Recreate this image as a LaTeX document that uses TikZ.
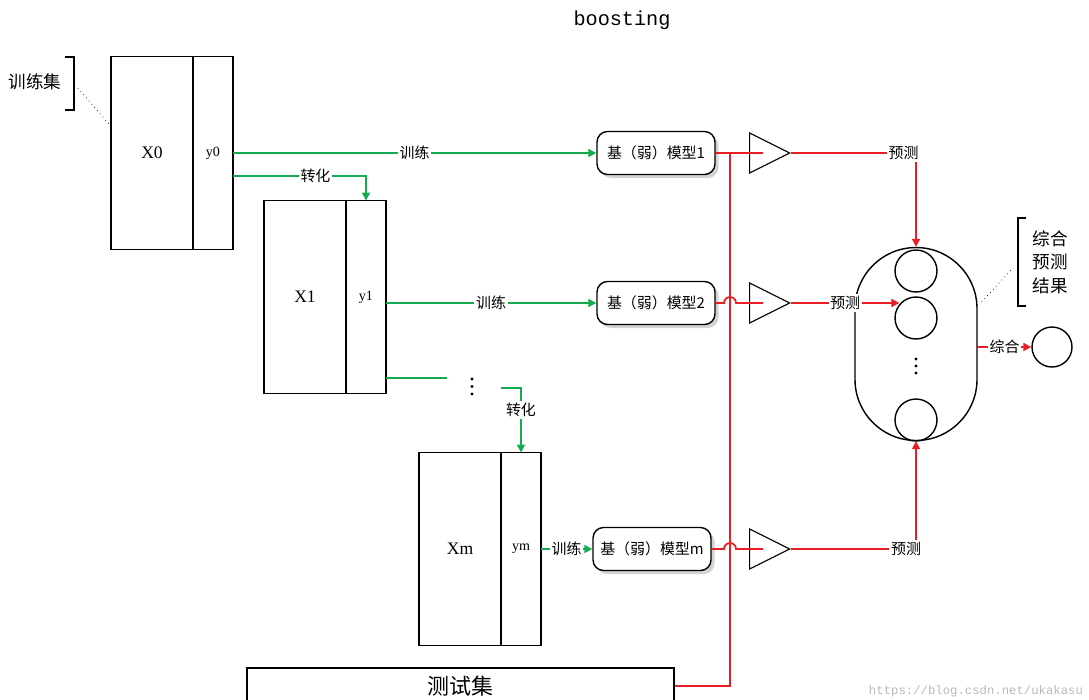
\documentclass[tikz,border=0pt]{standalone}
\usepackage{fontspec}
\setmainfont{Liberation Serif}
\setmonofont{Liberation Mono}
\newfontfamily\cjk{Noto Sans CJK SC}
\usetikzlibrary{shapes.geometric, arrows.meta, positioning, calc, shadows}
\definecolor{trainline}{RGB}{20, 170, 80}
\definecolor{predline}{RGB}{232, 30, 36}
\definecolor{markgray}{RGB}{185, 185, 185}
\tikzset{
    xpart/.style={
        rectangle, draw, thick, minimum width=1.64cm, minimum height=3.86cm,
        inner sep=0pt, outer sep=0pt, font=\fontsize{10}{12}\selectfont
    },
    ypart/.style={xpart, minimum width=0.8cm, font=\fontsize{8}{10}\selectfont},
    model/.style={
        rectangle, rounded corners=6pt, draw, thick, fill=white,
        minimum width=2.36cm, minimum height=0.86cm, inner sep=0pt,
        font=\cjk\fontsize{8.5}{10}\selectfont,
        drop shadow={shadow xshift=2pt, shadow yshift=-2pt, opacity=0.35}
    },
    amp/.style={
        isosceles triangle, isosceles triangle stretches, draw, semithick,
        minimum width=0.8cm, minimum height=0.8cm, inner sep=0pt
    },
    slot/.style={circle, draw, thick, minimum size=0.84cm, inner sep=0pt},
    capsule/.style={
        rectangle, draw, thick, rounded corners=1.22cm,
        minimum width=2.44cm, minimum height=3.86cm
    },
    testbox/.style={
        rectangle, draw, thick, minimum width=8.54cm, minimum height=0.72cm,
        font=\cjk\fontsize{12.5}{14}\selectfont
    },
    note/.style={font=\cjk\fontsize{10}{13.5}\selectfont, align=center},
    train/.style={-{Triangle[length=1.6mm, width=1.6mm]}, line width=1pt, color=trainline},
    trainplain/.style={line width=1pt, color=trainline},
    pred/.style={-{Triangle[length=1.6mm, width=1.6mm]}, line width=1pt, color=predline},
    predplain/.style={line width=1pt, color=predline},
    lbl/.style={fill=white, inner sep=1pt, text=black, font=\cjk\fontsize{8.5}{10}\selectfont},
}

\begin{document}
\begin{tikzpicture}[x=0.02cm, y=0.02cm]
    \useasboundingbox (0,0) rectangle (1089,-700);

    \node[font=\ttfamily\fontsize{11.5}{13}\selectfont] (title) at (622,-20) {boosting};

    \node[xpart] (X0) at (152,-153) {X0};
    \node[ypart, anchor=west] (y0) at (X0.east) {y0};
    \node[xpart] (X1) at (305,-297) {X1};
    \node[ypart, anchor=west] (y1) at (X1.east) {y1};
    \node[xpart] (Xm) at (460,-549) {Xm};
    \node[ypart, anchor=west] (ym) at (Xm.east) {ym};

    \node[note] (trainset) at (35,-82) {训练集};
    \draw[thick] (65,-57) -- (74,-57) -- (74,-110) -- (65,-110);
    \draw[dotted] (78,-88) -- ($(X0.north west)+(0,-70)$);

    \node[testbox] (test) at (460.5,-686) {测试集};

    \node[model] (model1) at (656,-153) {基（弱）模型1};
    \node[model] (model2) at (656,-303) {基（弱）模型2};
    \node[model] (modelm) at (652,-549) {基（弱）模型m};

    \draw[train] (y0.east |- model1) -- node[lbl] {训练} (model1);
    \draw[train] ($(y0.east)+(0,-23)$) -| node[lbl, pos=0.31] {转化} (y1.north);
    \draw[train] (y1.east |- model2) -- node[lbl] {训练} (model2);

    \coordinate (gap1) at (447,-378);
    \coordinate (gap2) at (501,-388);
    \foreach \k in {0,1,2}
        \fill (472,-379-7.5*\k) circle[radius=0.032cm];
    \draw[trainplain] ($(y1.east)+(0,-81)$) -- (gap1);
    \draw[train] (gap2) -| node[lbl, pos=0.67] {转化} (ym.north);
    \draw[train] (ym.east |- modelm) -- node[lbl] {训练} (modelm);

    \node[amp, anchor=apex] (tri1) at (791,-153) {};
    \node[amp, anchor=apex] (tri2) at (791,-303) {};
    \node[amp, anchor=apex] (trim) at (791,-549) {};
    \coordinate (in1) at ($(tri1.apex)+(-28,0)$);
    \coordinate (in2) at ($(tri2.apex)+(-28,0)$);
    \coordinate (inm) at ($(trim.apex)+(-28,0)$);
    \coordinate (bus) at (730,-153);

    \draw[predplain] (model1.east) -- (in1);
    \draw[predplain] (test.east) -| (bus);
    \draw[predplain] (model2.east) -- ($(bus |- model2.east)+(-6,0)$)
        arc[start angle=180, end angle=0, radius=0.12cm] -- (in2);
    \draw[predplain] (modelm.east) -- ($(bus |- modelm.east)+(-6,0)$)
        arc[start angle=180, end angle=0, radius=0.12cm] -- (inm);

    \node[capsule] (cap) at (916,-344) {};
    \node[slot] (c1) at (916,-271) {};
    \node[slot] (c2) at (916,-318) {};
    \node[slot] (c3) at (916,-420) {};
    \foreach \k in {0,1,2}
        \fill (916,-359-7*\k) circle[radius=0.032cm];

    \draw[pred] (tri1.apex) -| node[lbl, pos=0.45] {预测} (cap.north);
    \draw[pred] (tri2.apex) -- node[lbl, pos=0.5] {预测} (tri2.apex -| c2.140);
    \draw[pred] (trim.apex) -| node[lbl, pos=0.46] {预测} (cap.south);

    \node[circle, draw, thick, minimum size=0.8cm, inner sep=0pt] (final) at (1052,-347) {};
    \draw[pred] (cap.east |- final) -- node[lbl] {综合} (final);

    \node[note] (combo) at (1050,-262) {综合\\预测\\结果};
    \draw[thick] (1026,-218) -- (1018,-218) -- (1018,-306) -- (1026,-306);
    \draw[dotted] ($(cap.east)+(4,42)$) -- (1013,-268);

    \node[text=markgray, font=\ttfamily\fontsize{7}{8}\selectfont] (mark) at (976,-691) {https://blog.csdn.net/ukakasu};
\end{tikzpicture}
\end{document}
